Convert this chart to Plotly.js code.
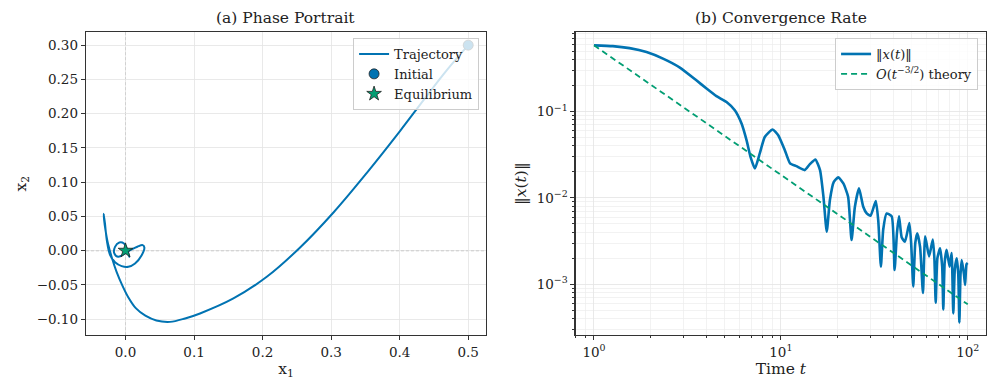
<!DOCTYPE html>
<html>
<head>
<meta charset="utf-8">
<script src="https://cdn.plot.ly/plotly-3.0.1.min.js"></script>
<style>body{margin:0;background:#fff}#chart{width:996px;height:392px}</style>
</head>
<body>
<div id="chart"></div>
<script>
// phase portrait
let phaseX1 = [0.5000, 0.4688, 0.4348, 0.4007, 0.3521, 0.3034, 0.2547, 0.2061, 0.1574, 0.1087,
    0.0870, 0.0650, 0.0450, 0.0290, 0.0150, 0.0040, -0.0050, -0.0130, -0.0200, -0.0255,
    -0.0292, -0.0312, -0.0318,
    -0.0300, -0.0272, -0.0226, -0.0153, -0.0056, 0.0041, 0.0139, 0.0236, 0.0275, 0.0250,
    0.0173, 0.0090, -0.0007, -0.0105, -0.0163, -0.0153, -0.0090, -0.0022, 0.0017, 0.0041,
    0.0056, 0.0027, 0.0007, 0.0];
let phaseX2 = [0.3000, 0.2635, 0.2197, 0.1749, 0.1136, 0.0557, 0.0046, -0.0382, -0.0698, -0.0917,
    -0.0990, -0.1040, -0.1020, -0.0950, -0.0840, -0.0680, -0.0500, -0.0310, -0.0100, 0.0100,
    0.0300, 0.0450, 0.0540,
    0.0400, 0.0146, -0.0060, -0.0170, -0.0226, -0.0236, -0.0187, -0.0066, 0.0046, 0.0080,
    0.0056, 0.0017, -0.0041, -0.0090, -0.0041, 0.0056, 0.0120, 0.0105, 0.0034, -0.0041,
    -0.0090, -0.0017, 0.0, 0.0];
let initPt = [0.5, 0.3];
let equilPt = [0, 0];

// convergence rate
let normT = [1.00, 1.26, 1.55, 1.91, 2.34, 2.88, 3.53, 4.00, 4.52, 5.12,
    5.67, 6.16, 6.55, 6.88, 7.26, 7.71, 8.20, 9.03, 9.68, 10.5,
    11.2, 12.1, 13.4, 14.3, 15.3, 16.2, 16.9, 17.6, 18.3, 19.2,
    20.3, 21.6, 22.9, 23.9, 24.9, 26.2, 27.6, 28.8, 30.2, 32.2,
    33.2, 34.3, 35.3, 36.8, 39.2, 40.6, 41.8, 42.9, 44.3, 46.1,
    48.7, 49.8, 51.1, 52.4, 53.7, 55.6, 57.6, 59.2, 62.1, 65.0,
    66.3, 67.4, 68.8, 71.1, 73.0, 74.0, 75.3, 77.1, 80.0, 82.0,
    83.7, 85.3, 87.3, 89.0, 90.2, 91.5, 92.9, 95.5, 96.8, 98.5, 100];
let normVal = [0.585, 0.573, 0.543, 0.489, 0.410, 0.323, 0.230, 0.185, 0.151, 0.129,
    0.1035, 0.0726, 0.0466, 0.0299, 0.0219, 0.0327, 0.0508, 0.0619, 0.0532, 0.0357,
    0.0251, 0.0233, 0.0210, 0.0246, 0.0279, 0.0210, 0.0103, 0.00406, 0.00944, 0.0153,
    0.0173, 0.0147, 0.0103, 0.00325, 0.0079, 0.0129, 0.0079, 0.0066, 0.0062, 0.0092,
    0.0055, 0.0016, 0.0043, 0.0066, 0.0061, 0.00146, 0.0039, 0.0061, 0.0035, 0.0031,
    0.0051, 0.0030, 0.00094, 0.0030, 0.0039, 0.0027, 0.00079, 0.0036, 0.0021, 0.0033,
    0.0020, 0.00061, 0.0020, 0.0026, 0.0016, 0.00051, 0.0018, 0.0025, 0.0016, 0.0023,
    0.00046, 0.0015, 0.0020, 0.0013, 0.00036, 0.0013, 0.0019, 0.0013, 0.00098, 0.0017, 0.00176];
let theoryT = [1, 100];
let theoryVal = [0.585, 0.000585];

let blue = "#0173B2";
let green = "#029E73";
let font = "DejaVu Serif";

let traj = {
    x: phaseX1, y: phaseX2, mode: "lines", type: "scatter", name: "Trajectory",
    line: {color: blue, width: 2, shape: "spline", smoothing: 1},
    xaxis: "x", yaxis: "y", legend: "legend"
};
let initial = {
    x: [initPt[0]], y: [initPt[1]], mode: "markers", type: "scatter", name: "Initial",
    marker: {color: blue, size: 10, line: {color: "#222", width: 0.8}},
    xaxis: "x", yaxis: "y", legend: "legend"
};
let equil = {
    x: [equilPt[0]], y: [equilPt[1]], mode: "markers", type: "scatter", name: "Equilibrium",
    marker: {color: green, size: 11, symbol: "star", line: {color: "#222", width: 0.8}},
    xaxis: "x", yaxis: "y", legend: "legend"
};
let normLine = {
    x: normT, y: normVal, mode: "lines", type: "scatter", name: "‖<i>x</i>(<i>t</i>)‖",
    line: {color: blue, width: 2.6, shape: "spline", smoothing: 0.5},
    xaxis: "x2", yaxis: "y2", legend: "legend2"
};
let theory = {
    x: theoryT, y: theoryVal, mode: "lines", type: "scatter",
    name: "<i>O</i>(<i>t</i><sup>−3/2</sup>) theory",
    line: {color: green, width: 1.8, dash: "6px,4px"},
    xaxis: "x2", yaxis: "y2", legend: "legend2"
};

let decadesX = [0.8, 0.9];
for (let d of [1, 10]) for (let k = 2; k <= 9; k++) decadesX.push(k * d);
let decadesY = [];
for (let d of [0.0001, 0.001, 0.01, 0.1]) for (let k = 2; k <= 9; k++) decadesY.push(k * d);

let grid = "#e4e4e4";
let axisBase = {
    showline: true, mirror: true, linecolor: "#333", linewidth: 1.2,
    ticks: "outside", ticklen: 4, tickcolor: "#333",
    showgrid: true, gridcolor: grid, gridwidth: 0.8, zeroline: false,
    tickfont: {family: font, size: 13.5, color: "#222"}
};
let domTop = 0.918, domBottom = 0.145;
let titleFont = {family: font, size: 15.5, color: "#222"};

let layout = {
    width: 996, height: 392,
    margin: {l: 0, r: 0, t: 0, b: 0},
    paper_bgcolor: "#fff", plot_bgcolor: "#fff",
    font: {family: font, color: "#222"},
    xaxis: Object.assign({}, axisBase, {
        domain: [0.0863, 0.488], range: [-0.0577, 0.526], dtick: 0.1, tickformat: ".1f",
        title: {text: "x<sub>1</sub>", font: titleFont, standoff: 4}
    }),
    yaxis: Object.assign({}, axisBase, {
        domain: [domBottom, domTop], range: [-0.1234, 0.319], dtick: 0.05, tickformat: ".2f",
        title: {text: "x<sub>2</sub>", font: titleFont, standoff: 6}
    }),
    xaxis2: Object.assign({}, axisBase, {
        type: "log", domain: [0.578, 0.99], range: [-0.098, 2.098],
        tickmode: "array", tickvals: [1, 10, 100],
        ticktext: ["10<sup>0</sup>", "10<sup>1</sup>", "10<sup>2</sup>"],
        minor: {tickmode: "array", tickvals: decadesX, ticks: "outside", ticklen: 2,
            tickcolor: "#333", showgrid: true, gridcolor: "#ececec", gridwidth: 0.7},
        anchor: "y2",
        title: {text: "Time <i>t</i>", font: titleFont, standoff: 4}
    }),
    yaxis2: Object.assign({}, axisBase, {
        type: "log", domain: [domBottom, domTop], range: [-3.59, -0.08],
        tickmode: "array", tickvals: [0.001, 0.01, 0.1],
        ticktext: ["10<sup>−3</sup>", "10<sup>−2</sup>", "10<sup>−1</sup>"],
        minor: {tickmode: "array", tickvals: decadesY, ticks: "outside", ticklen: 2,
            tickcolor: "#333", showgrid: true, gridcolor: "#ececec", gridwidth: 0.7},
        anchor: "x2",
        title: {text: "‖<i>x</i>(<i>t</i>)‖", font: titleFont, standoff: 6}
    }),
    shapes: [
        {type: "line", xref: "x", yref: "y domain", x0: 0, x1: 0, y0: 0, y1: 1,
            line: {color: "#777", width: 0.9, dash: "3px,2px"}, layer: "below"},
        {type: "line", xref: "x domain", yref: "y", x0: 0, x1: 1, y0: 0, y1: 0,
            line: {color: "#777", width: 0.9, dash: "3px,2px"}, layer: "below"}
    ],
    annotations: [
        {text: "(a) Phase Portrait", xref: "paper", yref: "paper", x: 0.287, y: domTop,
            xanchor: "center", yanchor: "bottom", yshift: 3, showarrow: false, font: titleFont},
        {text: "(b) Convergence Rate", xref: "paper", yref: "paper", x: 0.784, y: domTop,
            xanchor: "center", yanchor: "bottom", yshift: 3, showarrow: false, font: titleFont}
    ],
    legend: {
        x: 0.481, y: 0.903, xanchor: "right", yanchor: "top",
        bgcolor: "rgba(255,255,255,0.8)", bordercolor: "#ccc", borderwidth: 1,
        font: {family: font, size: 13}, tracegroupgap: 0, itemwidth: 30
    },
    legend2: {
        x: 0.982, y: 0.903, xanchor: "right", yanchor: "top",
        bgcolor: "rgba(255,255,255,0.8)", bordercolor: "#ccc", borderwidth: 1,
        font: {family: font, size: 13}, tracegroupgap: 0, itemwidth: 30
    },
    showlegend: true
};

Plotly.newPlot("chart", [traj, initial, equil, normLine, theory], layout, {staticPlot: true});
</script>
</body>
</html>
